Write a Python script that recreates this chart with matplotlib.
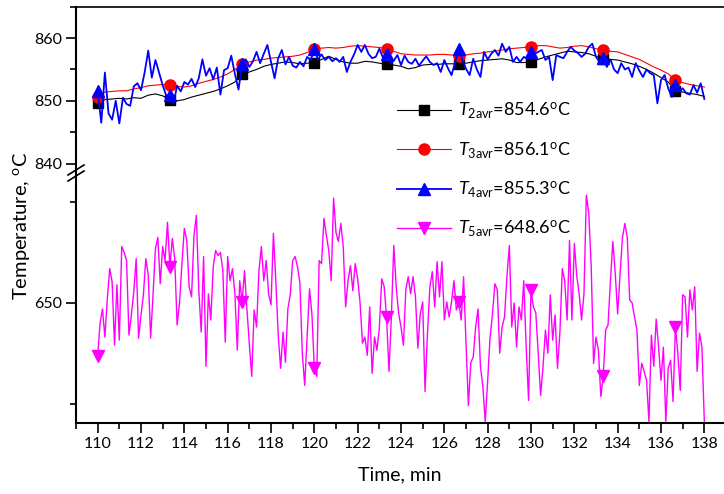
import matplotlib
matplotlib.use('Agg')
import matplotlib.pyplot as plt
import numpy as np
from matplotlib.ticker import MultipleLocator

plt.rcParams['font.family'] = ['Lato', 'DejaVu Sans']
plt.rcParams['mathtext.fontset'] = 'custom'
plt.rcParams['mathtext.rm'] = 'Lato'
plt.rcParams['mathtext.it'] = 'Lato:italic'

# thermocouple readings, 110-138 min
t_slow = 110 + np.arange(85) / 3.0      # T2, T3 logged every 20 s
t_fast = 110 + np.arange(169) / 6.0     # T4 logged every 10 s
t_t5 = 110 + np.arange(253) / 9.0       # T5 logged every 6.67 s

T2 = [849.7, 850.2, 850.3, 850.4, 850.3, 850.5, 850.4, 850.9, 851.1, 850.8,
      850.2, 850.0, 850.2, 850.6, 850.9, 851.2, 851.5, 851.9, 852.4, 853.0,
      854.2, 854.6, 855.0, 855.5, 855.8, 856.0, 856.2, 856.1, 855.9, 856.0,
      856.1, 856.6, 857.1, 856.6, 856.2, 856.0, 856.0, 856.3, 856.2, 856.0,
      855.8, 855.7, 855.5, 855.1, 855.3, 855.7, 855.8, 855.8, 855.9, 855.9,
      855.9, 856.0, 856.2, 856.4, 856.5, 856.6, 856.7, 856.5, 856.1, 856.1,
      856.2, 856.6, 857.0, 857.3, 857.6, 857.9, 857.8, 857.7, 857.5, 857.1,
      856.7, 856.6, 856.5, 856.2, 855.9, 855.5, 855.0, 854.4, 853.7, 853.0,
      851.6, 851.4, 851.2, 851.0, 850.7]

T3 = [850.6, 851.4, 851.5, 851.6, 851.6, 851.9, 852.1, 852.4, 852.5, 852.6,
      852.6, 852.3, 852.2, 852.4, 852.8, 853.1, 853.4, 853.8, 854.3, 855.0,
      855.8, 856.2, 856.5, 856.6, 856.8, 856.9, 857.0, 857.1, 857.3, 857.7,
      858.3, 858.4, 858.5, 858.4, 858.5, 858.7, 858.8, 858.7, 858.6, 858.5,
      858.3, 857.9, 857.5, 857.4, 857.3, 857.3, 857.3, 857.4, 857.4, 857.3,
      857.2, 857.3, 857.5, 857.6, 857.8, 857.9, 858.1, 858.3, 858.4, 858.5,
      858.6, 858.8, 858.8, 858.6, 858.4, 858.5, 858.7, 858.8, 858.6, 858.3,
      858.1, 857.9, 857.8, 857.4, 857.0, 856.6, 856.0, 855.4, 854.9, 854.3,
      853.3, 852.9, 852.6, 852.4, 852.2]

T4 = [851.6, 846.5, 854.5, 848.0, 847.0, 850.0, 846.4, 850.5, 849.5, 849.2,
      852.3, 852.8, 851.7, 854.5, 858.0, 853.7, 856.5, 854.5, 852.5, 850.8,
      851.0, 849.6, 852.4, 851.5, 853.0, 852.6, 853.5, 852.2, 853.6, 856.6,
      854.0, 855.2, 853.4, 855.3, 851.0, 854.9, 855.2, 857.2, 854.3, 851.8,
      855.8, 856.6, 855.4, 856.3, 857.8, 856.0, 857.5, 858.9, 856.2, 853.6,
      856.8, 858.1, 855.8, 857.0, 855.6, 855.3, 856.2, 855.5, 857.0, 856.5,
      858.2, 856.6, 857.4, 856.5, 857.0, 856.3, 856.8, 856.2, 857.0, 854.6,
      856.2, 857.4, 858.9, 857.8, 858.9, 857.5, 856.8, 857.0, 858.3, 856.9,
      857.5, 856.0, 856.4, 857.3, 855.7, 857.2, 856.2, 855.9, 856.7, 855.6,
      856.4, 857.1, 856.2, 855.7, 856.0, 854.6, 856.5, 855.2, 854.1, 856.2,
      858.3, 856.5, 855.1, 854.1, 856.7, 855.0, 853.8, 857.8, 856.6, 857.5,
      858.1, 857.2, 859.1, 857.8, 858.6, 856.2, 857.0, 856.2, 857.0, 856.7,
      857.8, 857.5, 857.8, 858.1, 856.5, 857.0, 853.3, 857.3, 857.0, 856.8,
      857.8, 858.6, 858.0, 857.6, 857.0, 857.5, 858.6, 859.1, 857.0, 856.2,
      856.8, 855.4, 856.6, 855.0, 854.4, 856.0, 855.0, 855.3, 853.8, 856.0,
      854.8, 853.8, 855.0, 854.4, 854.1, 849.6, 853.3, 854.1, 852.0, 850.6,
      852.5, 851.5, 852.0, 851.2, 851.0, 852.5, 851.3, 852.8, 850.3]

T5 = [644.7, 648.0, 649.4, 646.6, 650.4, 653.4, 652.1, 645.8, 651.8, 646.3,
      655.6, 655.0, 654.2, 646.8, 648.8, 651.1, 654.4, 646.5, 648.8, 650.8,
      654.4, 652.8, 646.5, 650.8, 655.4, 656.5, 651.9, 655.6, 654.2, 658.0,
      653.6, 656.4, 654.4, 647.8, 650.0, 653.9, 657.4, 656.2, 651.6, 650.6,
      656.7, 658.7, 651.3, 647.1, 654.6, 643.7, 650.9, 648.3, 653.6, 655.2,
      654.7, 655.0, 653.2, 646.1, 654.6, 652.2, 653.4, 650.9, 645.3, 652.2,
      650.1, 653.2, 649.4, 645.9, 642.7, 649.3, 647.6, 653.2, 655.6, 652.2,
      654.2, 650.9, 649.8, 656.9, 652.2, 646.8, 643.5, 647.1, 644.1, 649.4,
      650.8, 654.2, 654.6, 653.6, 652.0, 645.0, 641.8, 646.6, 651.4, 648.9,
      643.5, 642.7, 654.2, 653.9, 658.4, 656.7, 655.2, 652.2, 660.4, 657.0,
      656.1, 657.9, 655.6, 649.6, 652.2, 653.7, 651.2, 653.9, 652.4, 650.0,
      646.0, 646.6, 644.8, 649.6, 643.0, 646.6, 645.3, 647.5, 652.4, 651.6,
      648.6, 643.2, 648.6, 655.7, 651.6, 649.0, 647.6, 645.8, 651.3, 652.6,
      650.9, 652.6, 650.6, 645.5, 648.9, 650.1, 641.2, 647.0, 651.6, 653.1,
      649.6, 654.1, 650.6, 654.1, 648.3, 650.1, 648.6, 650.1, 652.2, 649.3,
      650.1, 648.3, 652.6, 646.0, 639.8, 644.1, 644.6, 647.6, 649.4, 643.7,
      641.7, 638.2, 642.3, 646.6, 648.9, 651.9, 651.3, 645.0, 647.6, 648.6,
      652.6, 655.7, 647.6, 650.0, 645.6, 649.6, 648.3, 652.2, 645.6, 640.3,
      651.3, 649.6, 649.0, 645.0, 640.8, 643.7, 647.3, 645.0, 650.8, 646.3,
      648.8, 643.5, 647.0, 653.4, 652.2, 648.3, 656.2, 648.3, 655.9, 652.7,
      650.9, 648.3, 650.9, 660.7, 658.9, 653.7, 644.0, 646.6, 645.3, 640.7,
      642.7, 647.3, 647.8, 652.2, 656.1, 652.9, 648.9, 652.9, 656.5, 657.9,
      656.5, 650.3, 650.0, 648.6, 647.3, 641.8, 644.0, 643.2, 642.3, 638.2,
      646.8, 643.7, 648.4, 645.6, 642.3, 645.6, 638.2, 643.5, 644.3, 640.2,
      647.6, 645.0, 641.3, 650.8, 650.6, 646.6, 651.3, 649.3, 651.6, 643.2,
      647.0, 645.6, 638.2]

labels = [r'$T_{\rm 2avr}$=854.6$^{\rm o}$C',
          r'$T_{\rm 3avr}$=856.1$^{\rm o}$C',
          r'$T_{\rm 4avr}$=855.3$^{\rm o}$C',
          r'$T_{\rm 5avr}$=648.6$^{\rm o}$C']

W, H = 724, 494
fig = plt.figure(figsize=(W / 100, H / 100), dpi=100)
x_left = 76 / W
x_width = 650 / W
y_break = 173
ax_top = fig.add_axes([x_left, (H - y_break) / H, x_width, (y_break - 6.7) / H])
ax_bot = fig.add_axes([x_left, (H - 422.7) / H, x_width, (422.7 - y_break) / H])

l2, = ax_top.plot(t_slow, T2, '-', color='black', lw=0.8, marker='s', ms=7,
                  markevery=10)
l3, = ax_top.plot(t_slow, T3, '-', color='red', lw=0.8, marker='o', ms=8,
                  markevery=10)
l4, = ax_top.plot(t_fast, T4, '-', color='blue', lw=1.3, marker='^', ms=8.5,
                  markevery=20)
l5, = ax_bot.plot(t_t5, T5, '-', color='magenta', lw=1.0, marker='v', ms=8.5,
                  markevery=30)

ax_top.set_ylim(838.5, 865.0)
ax_bot.set_ylim(638.1, 662.9)
for ax in (ax_top, ax_bot):
    ax.set_xlim(109, 139)
    ax.spines['right'].set_visible(False)
    ax.spines['left'].set_linewidth(1.5)
    ax.tick_params(which='both', direction='out', width=1.2, labelsize=11.5, pad=3)
    ax.tick_params(which='major', length=7)
    ax.tick_params(which='minor', length=4)
    ax.xaxis.set_major_locator(MultipleLocator(2))
    ax.xaxis.set_minor_locator(MultipleLocator(1))

ax_top.spines['bottom'].set_visible(False)
ax_top.spines['top'].set_linewidth(1.2)
ax_top.tick_params(axis='x', which='both', bottom=False, labelbottom=False)
ax_top.yaxis.set_major_locator(MultipleLocator(10))
ax_top.yaxis.set_minor_locator(MultipleLocator(5))

ax_bot.spines['top'].set_visible(False)
ax_bot.spines['bottom'].set_linewidth(1.5)
ax_bot.yaxis.set_major_locator(MultipleLocator(20, offset=10))
ax_bot.yaxis.set_minor_locator(MultipleLocator(10))
ax_bot.yaxis.set_major_formatter(lambda v, p: '%d' % v)

# axis break marks on the left spine
bx = x_left
by = (H - y_break) / H
for dy in (-3, 3):
    fig.add_artist(plt.Line2D([bx - 8 / W, bx + 8 / W],
                              [by + (dy - 5) / H, by + (dy + 5) / H],
                              color='black', lw=1.2))

fig.text(22 / W, 1 - 226 / H, r'Temperature, $^{\rm o}$C', rotation=90,
         ha='center', va='center', fontsize=14.5)
fig.text(400 / W, 1 - 475 / H, 'Time, min', ha='center', va='center', fontsize=14)

fig.legend([l2, l3, l4, l5], labels, loc='upper left',
           bbox_to_anchor=(388 / W, 1 - 92 / H), frameon=False, fontsize=13,
           handlelength=3.0, handletextpad=0.4, labelspacing=1.05, borderpad=0)

fig.savefig('out.png', dpi=100)
